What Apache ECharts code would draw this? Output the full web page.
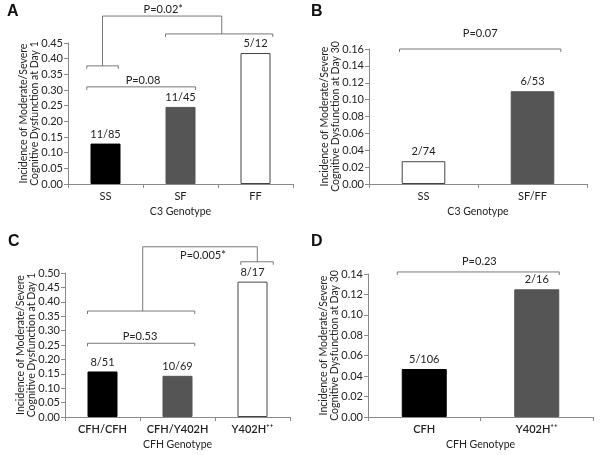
<!DOCTYPE html>
<html><head><meta charset="utf-8">
<script src="https://cdn.jsdelivr.net/npm/echarts@6/dist/echarts.min.js"></script>
<style>html,body{margin:0;padding:0;background:#fff}#c{width:601px;height:455px}</style>
</head><body><div id="c"></div>
<script>
// ---- data ----
const catsA = ['SS', 'SF', 'FF'];
const valsA = [0.129, 0.246, 0.418];
const fracA = ['11/85', '11/45', '5/12'];

const catsB = ['SS', 'SF/FF'];
const valsB = [0.027, 0.110];
const fracB = ['2/74', '6/53'];

const catsC = ['CFH/CFH', 'CFH/Y402H', 'Y402H\u207A\u207A'];
const valsC = [0.158, 0.143, 0.470];
const fracC = ['8/51', '10/69', '8/17'];

const catsD = ['CFH', 'Y402H\u207A\u207A'];
const valsD = [0.047, 0.125];
const fracD = ['5/106', '2/16'];

const yMaxA = 0.45, yStepA = 0.05;
const yMaxB = 0.16, yStepB = 0.02;
const yMaxC = 0.50, yStepC = 0.05;
const yMaxD = 0.14, yStepD = 0.02;

const xNameAB = 'C3 Genotype';
const xNameCD = 'CFH Genotype';
const yNameDay1 = 'Incidence of Moderate/Severe\nCognitive Dysfunction at Day 1';
const yNameDay30 = 'Incidence of Moderate/Severe\nCognitive Dysfunction at Day 30';

// ---- styling ----
const FONT = 'Lato, "DejaVu Sans", sans-serif';
const AXIS = '#8a8a8a';
const TXT = '#222';
const colorsA = ['#000000', '#555555', '#ffffff'];
const colorsB = ['#ffffff', '#555555'];
const colorsC = ['#000000', '#555555', '#ffffff'];
const colorsD = ['#000000', '#555555'];

const chart = echarts.init(document.getElementById('c'), null, {renderer: 'canvas'});

function xAx(g, cats, name, bold) {
  return {
    type: 'category', gridIndex: g, data: cats, boundaryGap: true,
    name: name, nameLocation: 'middle', nameGap: 22, nameMoveOverlap: false,
    nameTextStyle: {fontFamily: FONT, fontSize: 10.5, color: TXT},
    axisLine: {show: true, lineStyle: {color: AXIS, width: 1}},
    axisTick: {show: true, length: 4, alignWithLabel: false, lineStyle: {color: AXIS}},
    axisLabel: {fontFamily: FONT, fontSize: 11, color: TXT, margin: 7, fontWeight: bold ? 600 : 'normal', interval: 0},
    splitLine: {show: false}
  };
}
function yAx(g, max, step, name) {
  return {
    type: 'value', gridIndex: g, min: 0, max: max, interval: step,
    name: name, nameLocation: 'middle', nameGap: 28, nameRotate: 90, nameMoveOverlap: false,
    nameTextStyle: {fontFamily: FONT, fontSize: 10.5, color: TXT, lineHeight: 11, align: 'center'},
    axisLine: {show: true, lineStyle: {color: AXIS, width: 1}},
    axisTick: {show: true, length: 4, lineStyle: {color: AXIS}},
    axisLabel: {fontFamily: FONT, fontSize: 11, color: TXT, margin: 5, formatter: v => v.toFixed(2)},
    splitLine: {show: false}
  };
}
function barS(g, vals, colors, fracs) {
  return {
    type: 'bar', xAxisIndex: g, yAxisIndex: g, barWidth: '40%',
    data: vals.map((v, i) => ({
      value: v,
      itemStyle: {color: colors[i], borderColor: colors[i] === '#ffffff' ? '#444' : colors[i], borderWidth: 1}
    })),
    label: {show: true, position: 'top', distance: 4, fontFamily: FONT, fontSize: 11, color: TXT,
            formatter: p => fracs[p.dataIndex]},
    animation: false
  };
}

chart.setOption({
  animation: false,
  grid: [
    {left: 68, top: 43, width: 225, height: 141},
    {left: 369, top: 49, width: 218, height: 135},
    {left: 65, top: 273, width: 225, height: 144},
    {left: 368, top: 274, width: 225, height: 143}
  ],
  xAxis: [xAx(0, catsA, xNameAB, false), xAx(1, catsB, xNameAB, false),
          xAx(2, catsC, xNameCD, true), xAx(3, catsD, xNameCD, true)],
  yAxis: [yAx(0, yMaxA, yStepA, yNameDay1), yAx(1, yMaxB, yStepB, yNameDay30),
          yAx(2, yMaxC, yStepC, yNameDay1), yAx(3, yMaxD, yStepD, yNameDay30)],
  series: [barS(0, valsA, colorsA, fracA), barS(1, valsB, colorsB, fracB),
           barS(2, valsC, colorsC, fracC), barS(3, valsD, colorsD, fracD)]
});

// ---- significance annotations (category-index / data-value coordinates) ----
const annotations = [
  {g: 0, brackets: [[-0.25, 1.2, 0.31], [-0.25, 0.17, 0.377], [0.8, 2.23, 0.479]],
   paths: [[[-0.04, 0.377], [-0.04, 0.536], [1.55, 0.536], [1.55, 0.479]]],
   texts: [['P=0.08', 0.5, 0.329], ['P=0.02*', 0.77, 0.558]]},
  {g: 1, brackets: [[-0.22, 1.26, 0.16]], paths: [], texts: [['P=0.07', 0.52, 0.178]]},
  {g: 2, brackets: [[-0.2, 1.23, 0.256], [-0.2, 1.23, 0.368], [1.843, 2.277, 0.539]],
   paths: [[[0.536, 0.368], [0.536, 0.591], [2.064, 0.591], [2.064, 0.539]]],
   texts: [['P=0.53', 0.5, 0.279], ['P=0.005*', 1.34, 0.56]]},
  {g: 3, brackets: [[-0.24, 1.2, 0.142]], paths: [], texts: [['P=0.23', 0.49, 0.152]]}
];
const BR = '#777';
function px(g, ix, y) {
  const p0 = chart.convertToPixel({gridIndex: g}, [0, 0]);
  const p1 = chart.convertToPixel({gridIndex: g}, [1, 0]);
  const py = chart.convertToPixel({gridIndex: g}, [0, y]);
  return [p0[0] + ix * (p1[0] - p0[0]), py[1]];
}
const gfx = [];
annotations.forEach(a => {
  a.brackets.forEach(b => {
    const l = px(a.g, b[0], b[2]), r = px(a.g, b[1], b[2]);
    gfx.push({type: 'polyline', silent: true,
      shape: {points: [[l[0], l[1] + 3], [l[0], l[1]], [r[0], r[1]], [r[0], r[1] + 3]]},
      style: {stroke: BR, lineWidth: 1, fill: null}});
  });
  a.paths.forEach(p => {
    gfx.push({type: 'polyline', silent: true,
      shape: {points: p.map(q => px(a.g, q[0], q[1]))},
      style: {stroke: BR, lineWidth: 1, fill: null}});
  });
  a.texts.forEach(t => {
    const q = px(a.g, t[1], t[2]);
    gfx.push({type: 'text', silent: true, x: q[0], y: q[1],
      style: {text: t[0], fontFamily: FONT, fontSize: 11, fill: TXT, align: 'center', verticalAlign: 'middle'}});
  });
});
const panels = [['A', 7, 4], ['B', 311, 4], ['C', 8, 234], ['D', 311, 234]];
panels.forEach(p => gfx.push({type: 'text', silent: true, x: p[1], y: p[2],
  style: {text: p[0], fontFamily: '"Liberation Sans", Arial, sans-serif', fontWeight: 'bold', fontSize: 16, fill: '#111'}}));
chart.setOption({graphic: gfx});
</script></body></html>
